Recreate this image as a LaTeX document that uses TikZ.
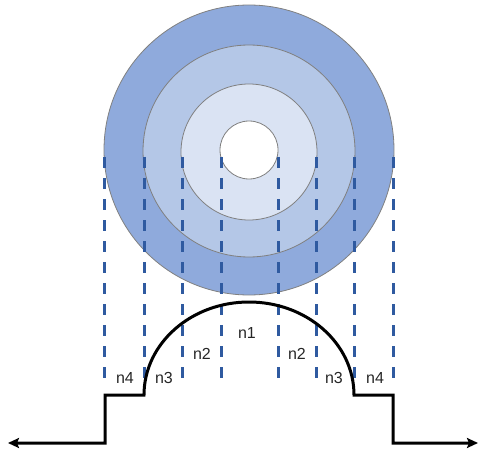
\documentclass[tikz,border=0pt]{standalone}
\usepackage{fontspec}
\setmainfont{Liberation Sans}
\usetikzlibrary{arrows.meta}
\definecolor{ringA}{HTML}{8FAADC}
\definecolor{ringB}{HTML}{B4C7E7}
\definecolor{ringC}{HTML}{DAE3F3}
\definecolor{ringline}{HTML}{808080}
\definecolor{dashblue}{HTML}{2F5AA0}
\tikzset{
  ring/.style={circle, draw=ringline, line width=0.8pt, inner sep=0pt},
  guide/.style={dashblue, line width=3pt, dash pattern=on 11pt off 10pt},
  profile/.style={black, line width=3pt, line join=miter},
  lbl/.style={font=\fontsize{16}{16}\selectfont, text=black!85, inner sep=0pt}
}
\begin{document}
\begin{tikzpicture}[x=1pt,y=-1pt]
\useasboundingbox (0,0) rectangle (480,452);
% rings
\node[ring, fill=ringA, minimum size=290pt] (r4) at (249,150) {};
\node[ring, fill=ringB, minimum size=212pt] (r3) at (249,151) {};
\node[ring, fill=ringC, minimum size=136pt] (r2) at (249,152) {};
\node[ring, fill=white, minimum size=58pt] (r1) at (249,150) {};
% guide lines
\foreach \i/\x in {1/104,2/144,3/182,4/221,5/278,6/316,7/354,8/393}{
  \coordinate (gt\i) at (\x,157);
  \coordinate (gb\i) at (\x,384);
  \draw[guide] (gt\i) -- (gb\i);
}
% profile
\coordinate (la) at (8,443);
\coordinate (lb) at (105,443);
\coordinate (lc) at (105,395);
\coordinate (ld) at (144,395);
\coordinate (re) at (354,395);
\coordinate (rd) at (393,395);
\coordinate (rc) at (393,443);
\coordinate (rb) at (478,443);
\draw[profile, {Stealth[length=11pt,width=10pt,inset=2pt]}-{Stealth[length=11pt,width=10pt,inset=2pt]}]
  (la) -- (lb) -- (lc) -- (ld) arc[start angle=180, end angle=360, x radius=105, y radius=93] -- (rd) -- (rc) -- (rb);
% labels
\node[lbl] (n4l) at (125,378) {n4};
\node[lbl] (n3l) at (164,378) {n3};
\node[lbl] (n2l) at (202,354) {n2};
\node[lbl] (n1l) at (247,333) {n1};
\node[lbl] (n2r) at (297,354) {n2};
\node[lbl] (n3r) at (334,378) {n3};
\node[lbl] (n4r) at (375,378) {n4};
\end{tikzpicture}
\end{document}
